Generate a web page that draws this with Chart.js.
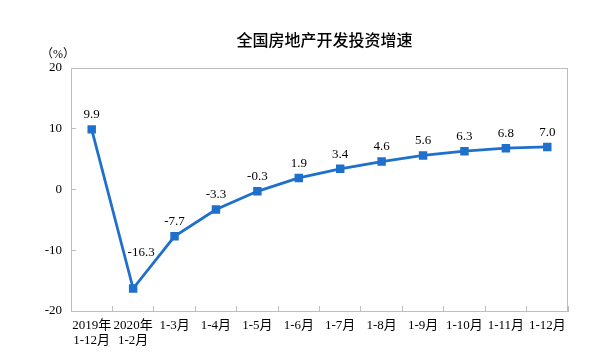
<!DOCTYPE html>
<html>
<head>
<meta charset="utf-8">
<script src="https://cdn.jsdelivr.net/npm/chart.js@4"></script>
<style>
  html, body { margin: 0; padding: 0; background: #fff; }
  #wrap { width: 604px; height: 360px; }
</style>
</head>
<body>
<div id="wrap"><canvas id="investChart" width="604" height="360"></canvas></div>
<script>
const TITLE = "全国房地产开发投资增速";
const UNIT = "（%）";
const labels = [
  ["2019年", "1-12月"], ["2020年", "1-2月"], "1-3月", "1-4月", "1-5月", "1-6月",
  "1-7月", "1-8月", "1-9月", "1-10月", "1-11月", "1-12月"
];
const growth = [9.9, -16.3, -7.7, -3.3, -0.3, 1.9, 3.4, 4.6, 5.6, 6.3, 6.8, 7.0];
const yTicks = [-20, -10, 0, 10, 20];

const SERIF = "'Liberation Serif', 'Times New Roman', 'Noto Sans CJK SC', serif";
const BLUE = "#1f6fcc";
const GRAY = "#bdbdbd";

// frame, title, unit and the value labels
const decor = {
  id: "decor",
  afterDraw(chart) {
    const { ctx, chartArea } = chart;
    ctx.save();
    ctx.strokeStyle = GRAY;
    ctx.lineWidth = 1;
    ctx.strokeRect(chartArea.left + 0.5, chartArea.top + 0.5,
      chartArea.right - chartArea.left - 1, chartArea.bottom - chartArea.top);

    ctx.fillStyle = "#000";
    ctx.font = "500 16px 'Noto Sans CJK SC', sans-serif";
    ctx.textAlign = "center";
    ctx.textBaseline = "middle";
    ctx.fillText(TITLE, (chartArea.left + chartArea.right) / 2 + 5, 40);

    ctx.font = "12px " + SERIF;
    ctx.fillText(UNIT, 58, 55);

    ctx.font = "13px " + SERIF;
    ctx.textBaseline = "bottom";
    const meta = chart.getDatasetMeta(0);
    const minVal = Math.min(...growth);
    meta.data.forEach((pt, i) => {
      const v = growth[i];
      let x = pt.x, y = pt.y - 8;
      if (v === minVal) { x += 8; y = pt.y - 29; }
      ctx.fillText(v.toFixed(1), x, y);
    });
    ctx.restore();
  }
};

new Chart(document.getElementById("investChart"), {
  type: "line",
  data: {
    labels,
    datasets: [{
      data: growth,
      borderColor: BLUE,
      backgroundColor: BLUE,
      borderWidth: 2.8,
      pointStyle: "rect",
      pointRadius: 4,
      pointHoverRadius: 4,
      tension: 0,
      fill: false
    }]
  },
  options: {
    responsive: false,
    animation: false,
    layout: { padding: { top: 68, right: 36, left: 0, bottom: 0 } },
    plugins: {
      legend: { display: false },
      tooltip: { enabled: false },
      title: { display: false }
    },
    scales: {
      x: {
        offset: true,
        grid: {
          offset: true,
          drawOnChartArea: false,
          tickLength: -5,
          color: GRAY
        },
        border: { color: GRAY },
        ticks: {
          color: "#000",
          padding: 12,
          maxRotation: 0,
          autoSkip: false,
          font: { family: SERIF, size: 13, lineHeight: 1.15 }
        },
        afterFit(scale) { scale.height = 49; }
      },
      y: {
        min: -20,
        max: 20,
        afterBuildTicks(scale) { scale.ticks = yTicks.map(v => ({ value: v })); },
        grid: {
          drawOnChartArea: false,
          tickLength: -5,
          color: GRAY
        },
        border: { color: GRAY },
        ticks: {
          color: "#000",
          padding: 14,
          font: { family: SERIF, size: 13 }
        },
        afterFit(scale) { scale.width = 71; }
      }
    }
  },
  plugins: [decor]
});
</script>
</body>
</html>
